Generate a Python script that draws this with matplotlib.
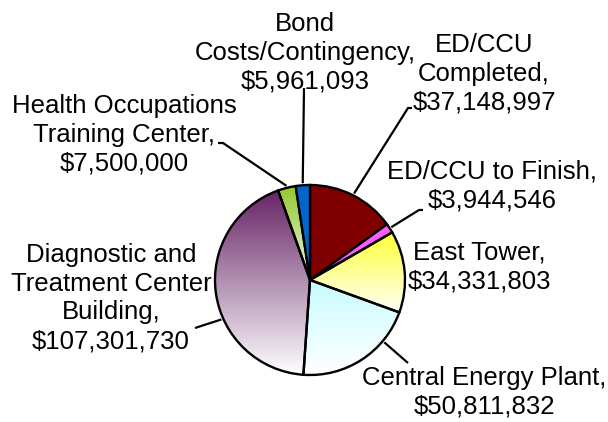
import numpy as np
import matplotlib
matplotlib.use('Agg')
import matplotlib.pyplot as plt
from matplotlib.colors import LinearSegmentedColormap

# ---- data ----
categories = ["ED/CCU Completed", "ED/CCU to Finish", "East Tower",
              "Central Energy Plant", "Diagnostic and Treatment Center Building",
              "Health Occupations Training Center", "Bond Costs/Contingency"]
values = [37148997, 3944546, 34331803, 50811832, 107301730, 7500000, 5961093]
label_names = ["ED/CCU\nCompleted,", "ED/CCU to Finish,", "East Tower,",
               "Central Energy Plant,", "Diagnostic and\nTreatment Center\nBuilding,",
               "Health Occupations\nTraining Center,", "Bond\nCosts/Contingency,"]

# ---- style ----
# (top colour, bottom colour) for vertical gradients; same colour = solid
fills = [("#800000", "#800000"),
         ("#FF5CFF", "#FF5CFF"),
         ("#FFFF30", "#FFFFFA"),
         ("#C8FCFF", "#FFFFFF"),
         ("#662466", "#FFFFFF"),
         ("#92C82C", "#EEF5DF"),
         ("#0066CC", "#0066CC")]

W, H = 608, 422
fig = plt.figure(figsize=(W / 100, H / 100), dpi=100)
ax = fig.add_axes([0, 0, 1, 1])

def py(y):  # pixel row (from top) -> data y
    return H - y

cx, cy, R = 310, py(280), 95
wedges, _ = ax.pie(values, startangle=90, counterclock=False, center=(cx, cy),
                   radius=R, wedgeprops=dict(edgecolor='black', linewidth=1.7))

grad = np.linspace(0, 1, 256).reshape(-1, 1)
for w, (top, bot) in zip(wedges, fills):
    if top == bot:
        w.set_facecolor(top)
        continue
    w.set_facecolor('none')
    ext = w.get_path().get_extents()
    cmap = LinearSegmentedColormap.from_list('g', [top, bot])
    im = ax.imshow(grad, cmap=cmap, extent=[ext.x0, ext.x1, ext.y0, ext.y1],
                   origin='upper', aspect='auto', zorder=w.get_zorder() - 0.5,
                   interpolation='bilinear')
    im.set_clip_path(w)

# ---- labels (layout) ----
label_pos = [(484, 74), (492, 186), (479, 267), (484, 392), (111, 298), (124, 135), (305, 53)]
# leader: (start point near label in pixels, attach angle on pie in degrees) or None
leaders = [((412, 108), 63), ((423, 210), 33), None, ((408, 363), -40),
           ((195, 328), 204), ((218, 143), 104), ((304, 88), 94.3)]
leader_elbow = [(-4, 0), (-4, 0), None, (0, 0), (0, 0), (5, 0), (0, 0)]

for name, v, (x, y) in zip(label_names, values, label_pos):
    ax.text(x, py(y), f"{name}\n${v:,}", ha='center', va='center',
            multialignment='center', fontsize=18.5, family='Liberation Sans',
            linespacing=1.25, color='black', zorder=5)

for ld, el in zip(leaders, leader_elbow):
    if ld is None:
        continue
    (sx, sy), ang = ld
    ex = cx + (R + 2) * np.cos(np.radians(ang))
    ey = cy + (R + 2) * np.sin(np.radians(ang))
    xs = [sx, sx + el[0], ex]
    ys = [py(sy), py(sy) + el[1], ey]
    ax.plot(xs, ys, color='black', lw=1.6, zorder=4, solid_capstyle='butt')

ax.set_xlim(0, W)
ax.set_ylim(0, H)
ax.set_aspect('equal')
ax.axis('off')
fig.savefig('out.png', dpi=100, facecolor='white')
